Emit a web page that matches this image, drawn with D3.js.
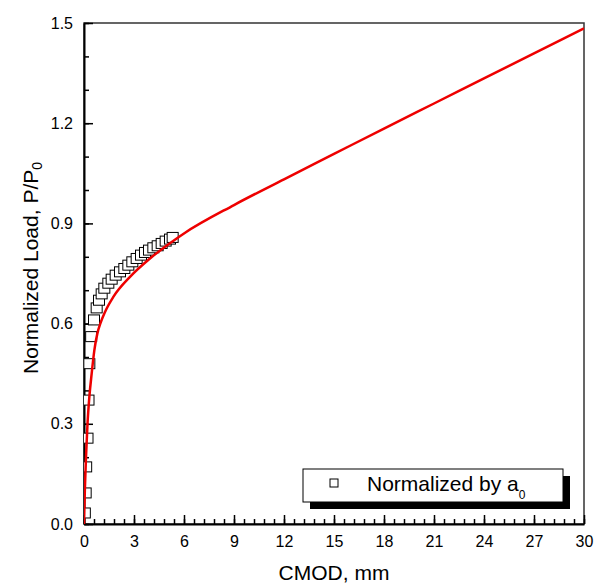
<!DOCTYPE html>
<html>
<head>
<meta charset="utf-8">
<script src="https://cdn.jsdelivr.net/npm/d3@7"></script>
<style>
  html, body { margin: 0; padding: 0; background: #fff; }
  svg { display: block; font-family: "Liberation Sans", Arial, sans-serif; }
</style>
</head>
<body>
<svg id="chart" width="602" height="583"></svg>
<script>
// ---- data ----
const measuredCMOD = [0.05, 0.10, 0.13, 0.21, 0.27, 0.32, 0.43, 0.60, 0.76, 0.90, 1.06, 1.22, 1.46, 1.66, 1.90, 2.16, 2.42, 2.66, 2.90, 3.16, 3.42, 3.66, 3.90, 4.16, 4.42, 4.66, 4.90, 5.16, 5.32];
const measuredLoad = [0.033, 0.093, 0.171, 0.257, 0.371, 0.480, 0.561, 0.611, 0.647, 0.670, 0.689, 0.706, 0.721, 0.733, 0.745, 0.755, 0.765, 0.775, 0.785, 0.795, 0.805, 0.813, 0.820, 0.827, 0.833, 0.840, 0.847, 0.853, 0.858];
const fitCMOD = [0, 0.05, 0.12, 0.21, 0.32, 0.46, 0.62, 0.80, 1.0, 1.26, 1.76, 2.76, 3.96, 5.56, 6.0, 9, 12, 15, 18, 21, 24, 27, 30];
const fitLoad = [0, 0.10, 0.20, 0.30, 0.38, 0.45, 0.52, 0.57, 0.603, 0.635, 0.680, 0.740, 0.795, 0.855, 0.870, 0.955, 1.032, 1.108, 1.184, 1.259, 1.334, 1.409, 1.484];
const xTickValues = [0, 3, 6, 9, 12, 15, 18, 21, 24, 27, 30];
const yTickValues = [0, 0.3, 0.6, 0.9, 1.2, 1.5];
const yTickLabels = ["0.0", "0.3", "0.6", "0.9", "1.2", "1.5"];
const legendLabel = "Normalized by a";
const legendSub = "0";

// ---- layout ----
const svg = d3.select("#chart");
const L = 84, R = 584, T = 23, B = 524;
const x = d3.scaleLinear().domain([0, 30]).range([L, R]);
const y = d3.scaleLinear().domain([0, 1.5]).range([B, T]);

svg.append("defs").append("clipPath").attr("id", "plotclip")
  .append("rect").attr("x", L).attr("y", T).attr("width", R - L).attr("height", B - T);

// frame
svg.append("rect").attr("x", L).attr("y", T).attr("width", R - L).attr("height", B - T)
  .attr("fill", "none").attr("stroke", "#333").attr("stroke-width", 1.5);

// minor ticks
const xMinor = d3.range(0, 51).map(i => +(i * 0.6).toFixed(2));
const yMinor = d3.range(0, 16).map(i => i / 10);
svg.append("g").attr("transform", `translate(0,${B})`)
  .call(d3.axisBottom(x).tickValues(xMinor).tickSize(-5).tickFormat(""))
  .call(g => g.select(".domain").remove())
  .call(g => g.selectAll("line").attr("stroke", "#000").attr("stroke-width", 1.5));
svg.append("g").attr("transform", `translate(${L},0)`)
  .call(d3.axisLeft(y).tickValues(yMinor).tickSize(-5).tickFormat(""))
  .call(g => g.select(".domain").remove())
  .call(g => g.selectAll("line").attr("stroke", "#000").attr("stroke-width", 1.5));

// major axes
const xAxis = svg.append("g").attr("transform", `translate(0,${B})`)
  .call(d3.axisBottom(x).tickValues(xTickValues).tickSize(-9).tickPadding(12).tickSizeOuter(0));
xAxis.select(".domain").attr("stroke", "#000").attr("stroke-width", 2);
xAxis.selectAll("line").attr("stroke", "#000").attr("stroke-width", 1.5);
xAxis.selectAll("text").attr("font-size", 16).attr("fill", "#000")
  .attr("font-family", '"Liberation Sans", Arial, sans-serif');

const yAxis = svg.append("g").attr("transform", `translate(${L},0)`)
  .call(d3.axisLeft(y).tickValues(yTickValues).tickSize(-9).tickPadding(11).tickSizeOuter(0)
    .tickFormat((d, i) => yTickLabels[i]));
yAxis.select(".domain").attr("stroke", "#000").attr("stroke-width", 2);
yAxis.selectAll("line").attr("stroke", "#000").attr("stroke-width", 1.5);
yAxis.selectAll("text").attr("font-size", 16).attr("fill", "#000")
  .attr("font-family", '"Liberation Sans", Arial, sans-serif');

// axis titles
svg.append("text").attr("x", (L + R) / 2).attr("y", 580).attr("text-anchor", "middle")
  .attr("font-size", 21).attr("fill", "#000").text("CMOD, mm");

const yt = svg.append("text").attr("transform", "translate(38,268) rotate(-90)")
  .attr("text-anchor", "middle").attr("font-size", 21).attr("fill", "#000");
yt.append("tspan").text("Normalized Load, P/P");
yt.append("tspan").attr("font-size", 14).attr("dy", 4).text("0");

// data
const plot = svg.append("g").attr("clip-path", "url(#plotclip)");
const pts = measuredCMOD.map((c, i) => [c, measuredLoad[i]]);
plot.selectAll("rect.pt").data(pts).enter().append("rect").attr("class", "pt")
  .attr("x", d => x(d[0]) - 5.5).attr("y", d => y(d[1]) - 5)
  .attr("width", 11).attr("height", 10)
  .attr("fill", "#fff").attr("stroke", "#000").attr("stroke-width", 1);

const fit = fitCMOD.map((c, i) => [c, fitLoad[i]]);
plot.append("path").datum(fit)
  .attr("d", d3.line().x(d => x(d[0])).y(d => y(d[1])).curve(d3.curveMonotoneX))
  .attr("fill", "none").attr("stroke", "#ee0000").attr("stroke-width", 2.5);

// legend
const lg = svg.append("g");
lg.append("rect").attr("x", 310).attr("y", 476).attr("width", 260).attr("height", 33).attr("fill", "#000");
lg.append("rect").attr("x", 303).attr("y", 469).attr("width", 260).attr("height", 33)
  .attr("fill", "#fff").attr("stroke", "#000").attr("stroke-width", 1);
lg.append("rect").attr("x", 330).attr("y", 479).attr("width", 8).attr("height", 8)
  .attr("fill", "#fff").attr("stroke", "#000").attr("stroke-width", 1);
const lt = lg.append("text").attr("x", 367).attr("y", 491).attr("font-size", 21).attr("fill", "#000");
lt.append("tspan").text(legendLabel);
lt.append("tspan").attr("font-size", 12).attr("dy", 8).text(legendSub);
</script>
</body>
</html>
